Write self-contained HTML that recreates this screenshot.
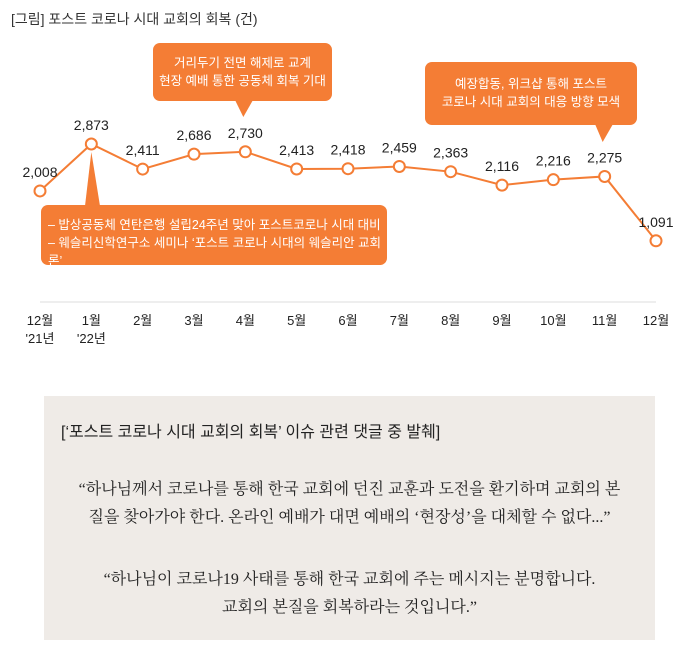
<!DOCTYPE html>
<html><head><meta charset="utf-8"><style>
body{margin:0;background:#fff;font-family:"Liberation Sans","Noto Sans CJK KR",sans-serif;}
#wrap{position:relative;width:693px;height:670px;overflow:hidden;}
.t{position:absolute;}
.box{position:absolute;background:#f47d35;color:#fff;border-radius:7px;font-size:12.5px;line-height:18px;}
.quote{position:absolute;left:44px;top:396px;width:611px;height:244px;background:#efebe7;color:#222;}
</style></head><body>
<div id="wrap">
<div class="t" style="left:11px;top:9px;font-size:14px;color:#333;">[그림] 포스트 코로나 시대 교회의 회복 (건)</div>
<svg id="chart" width="693" height="370" style="position:absolute;left:0;top:0"></svg>
<div class="box" style="left:153px;top:43px;width:179px;height:58px;text-align:center;padding-top:11px;box-sizing:border-box;">거리두기 전면 해제로 교계<br>현장 예배 통한 공동체 회복 기대</div>
<div class="box" style="left:425px;top:62px;width:212px;height:63px;text-align:center;padding-top:13px;box-sizing:border-box;">예장합동, 위크샵 통해 포스트<br>코로나 시대 교회의 대응 방향 모색</div>
<div class="box" style="left:41px;top:205px;width:346px;height:60px;padding:11px 0 0 7px;box-sizing:border-box;">– 밥상공동체 연탄은행 설립24주년 맞아 포스트코로나 시대 대비<br>– 웨슬리신학연구소 세미나 ‘포스트 코로나 시대의 웨슬리안 교회론’</div>
<div class="quote">
<div class="t" style="left:17px;top:22px;font-size:16px;">[‘포스트 코로나 시대 교회의 회복’ 이슈 관련 댓글 중 발췌]</div>
<div class="t" style="left:0;width:611px;top:80px;font-size:16px;line-height:28px;text-align:center;font-family:'Liberation Serif','Noto Serif CJK SC',serif;">“하나님께서 코로나를 통해 한국 교회에 던진 교훈과 도전을 환기하며 교회의 본<br>질을 찾아가야 한다. 온라인 예배가 대면 예배의 ‘현장성’을 대체할 수 없다...”</div>
<div class="t" style="left:0;width:611px;top:170px;font-size:16px;line-height:28px;text-align:center;font-family:'Liberation Serif','Noto Serif CJK SC',serif;">“하나님이 코로나19 사태를 통해 한국 교회에 주는 메시지는 분명합니다.<br>교회의 본질을 회복하라는 것입니다.”</div>
</div>
</div>
<script>
const months=["12월","1월","2월","3월","4월","5월","6월","7월","8월","9월","10월","11월","12월"];
const years=["'21년","'22년","","","","","","","","","","",""];
const values=[2008,2873,2411,2686,2730,2413,2418,2459,2363,2116,2216,2275,1091];
const labels=["2,008","2,873","2,411","2,686","2,730","2,413","2,418","2,459","2,363","2,116","2,216","2,275","1,091"];
const svg=document.getElementById('chart');const NS='http://www.w3.org/2000/svg';
const x=i=>40+i*(616/12);
const y=v=>300-v*0.0543;
function mk(t,a){const e=document.createElementNS(NS,t);for(const k in a)e.setAttribute(k,a[k]);svg.appendChild(e);return e;}
let ax=mk('line',{x1:40,x2:656,y1:302,y2:302,stroke:'#ddd','stroke-width':1});


// callout pointers
let p1=mk('polygon',{points:`235,100 253,100 ${x(4)-2},117`,fill:'#f47d35'});


let p2=mk('polygon',{points:`595,124 613,124 ${x(11)-2},142`,fill:'#f47d35'});


let p3=mk('polygon',{points:`85,206 100,206 ${x(1)},${y(values[1])+8}`,fill:'#f47d35'});


let line=mk('polyline',{points:values.map((v,i)=>x(i)+','+y(v)).join(' '),fill:'none',stroke:'#f47d35','stroke-width':2});


values.forEach((v,i)=>{
 let c=mk('circle',{cx:x(i),cy:y(v),r:5.5,fill:'#fff',stroke:'#f47d35','stroke-width':2});
 
 
 let t=mk('text',{x:x(i),y:y(v)-14,'text-anchor':'middle','font-size':14,fill:'#222'});
 t.textContent=labels[i];
 
 
 let m=mk('text',{x:x(i),y:325,'text-anchor':'middle','font-size':13,fill:'#222'});
 m.textContent=months[i];
 
 
 if(years[i]){let yy=mk('text',{x:x(i),y:343,'text-anchor':'middle','font-size':13,fill:'#222'});yy.textContent=years[i];
 
 }
});
</script>
</body></html>
